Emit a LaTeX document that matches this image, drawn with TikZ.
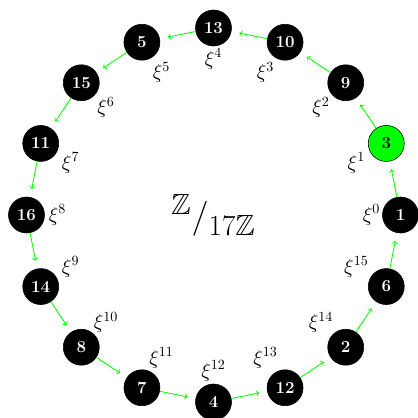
\documentclass[tikz,border=0pt]{standalone}
\usepackage{amssymb}
\begin{document}
\begin{tikzpicture}[
    elem/.style={circle,draw=black,fill=black,text=white,font=\large\bfseries,
                 minimum size=0.9cm,inner sep=0pt},
    gen/.style={elem,fill=green,text=black},
    hop/.style={->,green,line width=0.6pt,shorten >=2mm},
    pow/.style={font=\Large}
]
    \useasboundingbox (-5.3375,-5.075) rectangle (5.1125,5.375);

    % Powers of the generator 3 on a circle of radius 4.675
    \node[elem] (x0)  at (0:4.675)     {1};
    \node[gen]  (x1)  at (22.5:4.675)  {3};
    \node[elem] (x2)  at (45:4.675)    {9};
    \node[elem] (x3)  at (67.5:4.675)  {10};
    \node[elem] (x4)  at (90:4.675)    {13};
    \node[elem] (x5)  at (112.5:4.675) {5};
    \node[elem] (x6)  at (135:4.675)   {15};
    \node[elem] (x7)  at (157.5:4.675) {11};
    \node[elem] (x8)  at (180:4.675)   {16};
    \node[elem] (x9)  at (202.5:4.675) {14};
    \node[elem] (x10) at (225:4.675)   {8};
    \node[elem] (x11) at (247.5:4.675) {7};
    \node[elem] (x12) at (270:4.675)   {4};
    \node[elem] (x13) at (292.5:4.675) {12};
    \node[elem] (x14) at (315:4.675)   {2};
    \node[elem] (x15) at (337.5:4.675) {6};

    % Multiplication by 3 sends each power to the next one
    \draw[hop] (x0) -- (x1);
    \draw[hop] (x1) -- (x2);
    \draw[hop] (x2) -- (x3);
    \draw[hop] (x3) -- (x4);
    \draw[hop] (x4) -- (x5);
    \draw[hop] (x5) -- (x6);
    \draw[hop] (x6) -- (x7);
    \draw[hop] (x7) -- (x8);
    \draw[hop] (x8) -- (x9);
    \draw[hop] (x9) -- (x10);
    \draw[hop] (x10) -- (x11);
    \draw[hop] (x11) -- (x12);
    \draw[hop] (x12) -- (x13);
    \draw[hop] (x13) -- (x14);
    \draw[hop] (x14) -- (x15);
    \draw[hop] (x15) -- (x0);

    % Exponents, on an inner ring
    \node[pow] (e0)  at (0:3.95)   {$\xi^{0}$};
    \node[pow] (e1)  at (20:3.8)   {$\xi^{1}$};
    \node[pow] (e2)  at (45:3.8)   {$\xi^{2}$};
    \node[pow] (e3)  at (70:3.8)   {$\xi^{3}$};
    \node[pow] (e4)  at (90:3.9)   {$\xi^{4}$};
    \node[pow] (e5)  at (110:3.8)  {$\xi^{5}$};
    \node[pow] (e6)  at (135:3.8)  {$\xi^{6}$};
    \node[pow] (e7)  at (160:3.8)  {$\xi^{7}$};
    \node[pow] (e8)  at (180:3.9)  {$\xi^{8}$};
    \node[pow] (e9)  at (200:3.8)  {$\xi^{9}$};
    \node[pow] (e10) at (225:3.8)  {$\xi^{10}$};
    \node[pow] (e11) at (250:3.8)  {$\xi^{11}$};
    \node[pow] (e12) at (270:3.9)  {$\xi^{12}$};
    \node[pow] (e13) at (290:3.8)  {$\xi^{13}$};
    \node[pow] (e14) at (315:3.8)  {$\xi^{14}$};
    \node[pow] (e15) at (340:3.8)  {$\xi^{15}$};

    % The group in the middle
    \node[font=\Huge] (ring) at (0,0)
        {$^{\mathbb{Z}}/_{17\mathbb{Z}}$};
\end{tikzpicture}
\end{document}
